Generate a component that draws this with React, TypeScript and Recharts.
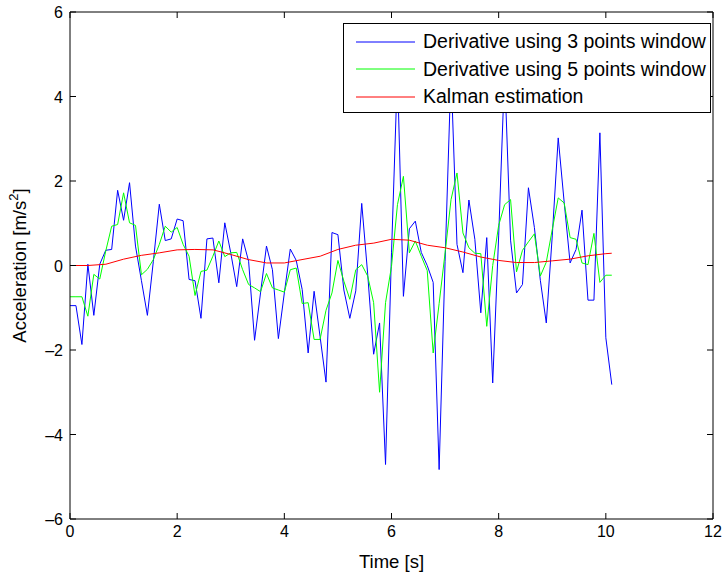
import { LineChart, Line, XAxis, YAxis, Legend, ReferenceLine } from "recharts";

// samples are 1/9 s apart, starting at t = 0
const SAMPLE_STEP = 1 / 9;

const derivative3 = [
  -0.95, -0.95, -1.87, 0.03, -1.18, 0.03, 0.36, 0.38, 1.78, 1.07,
  1.96, 0.46, -0.36, -1.18, 0.1, 1.45, 0.59, 0.63, 1.1, 1.06,
  -0.33, -0.36, -1.25, 0.63, 0.65, -0.41, 1.01, 0.3, -0.5, 0.63,
  0.1, -1.77, -0.65, 0.46, -0.1, -1.73, -0.65, 0.39, 0.12, -0.57,
  -2.07, -0.61, -1.68, -2.76, 0.78, 0.73, -0.58, -1.25, -0.6, 1.47,
  -0.2, -2.1, -1.36, -4.71, 0.3, 4.6, -0.73, 0.87, 1.05, 0.31,
  0.0, -0.4, -4.83, 0.1, 4.6, 0.5, -0.17, 1.55, 0.62, -1.12,
  0.66, -2.78, 0.7, 4.6, 0.6, -0.65, -0.45, 1.84, 0.9, -0.35,
  -1.36, 0.7, 3.02, 1.5, 0.06, 0.38, 1.31, -0.82, -0.82, 3.14,
  -1.71, -2.82,
];

const derivative5 = [
  -0.74, -0.74, -0.74, -1.2, -0.21, -0.32, 0.34, 0.93, 0.97, 1.72,
  1.01, 0.95, -0.22, -0.09, 0.14, 0.5, 0.93, 0.79, 0.9, 0.5,
  0.22, -0.71, -0.14, -0.11, 0.22, 0.58, 0.21, 0.3, 0.31, -0.1,
  -0.45, -0.53, -0.62, -0.19, -0.53, -0.58, -0.63, -0.1, -0.06, -0.9,
  -0.88, -1.75, -1.75, -1.06, -0.65, 0.12, -0.37, -0.8, -0.1, 0.02,
  -0.25, -0.88, -3.0, -0.88, -0.02, 1.44, 2.11, 0.3, 0.58, 0.22,
  -0.12, -2.07, -0.9, 0.3, 1.56, 2.19, 0.77, 0.42, 0.29, 0.28,
  -1.44, 0.0, 0.95, 1.44, 1.56, -0.15, 0.36, 0.56, 0.75, -0.25,
  0.08, 0.85, 1.6, 1.48, 0.66, 0.62, 0.06, 0.02, 0.76, -0.4,
  -0.23, -0.23,
];

const kalmanTime = [
  0, 0.33, 0.67, 1, 1.33, 1.67, 2, 2.33, 2.67, 3, 3.33, 3.67, 4, 4.33, 4.67, 5,
  5.33, 5.67, 6, 6.33, 6.67, 7, 7.33, 7.67, 8, 8.33, 8.67, 9, 9.33, 9.67, 10, 10.11,
];
const kalmanValue = [
  0.0, 0.0, 0.03, 0.15, 0.24, 0.3, 0.37, 0.38, 0.37, 0.26, 0.14, 0.06, 0.06, 0.14, 0.22, 0.38,
  0.48, 0.53, 0.62, 0.6, 0.48, 0.42, 0.32, 0.2, 0.12, 0.07, 0.07, 0.11, 0.15, 0.23, 0.28, 0.29,
];

const xTicks = [0, 2, 4, 6, 8, 10, 12];
const yTicks = [-6, -4, -2, 0, 2, 4, 6];

const names = [
  "Derivative using 3 points window",
  "Derivative using 5 points window",
  "Kalman estimation",
];

const rows3 = derivative3.map((v, i) => ({ t: i * SAMPLE_STEP, v }));
const rows5 = derivative5.map((v, i) => ({ t: i * SAMPLE_STEP, v }));
const rowsK = kalmanTime.map((t, i) => ({ t, v: kalmanValue[i] }));

const FONT = '"Liberation Sans", Arial, Helvetica, sans-serif';
const TICK_FS = 16;
const LABEL_FS = 18.5;
const LEGEND_FS = 19.5;
const PLOT_TOP = 12;
const PLOT_RIGHT = 713;
const TICK = 6;

function XTick(props: any) {
  const { x, y, payload } = props;
  return (
    <g>
      <line x1={x} y1={y} x2={x} y2={y - TICK} stroke="#000" />
      <line x1={x} y1={PLOT_TOP} x2={x} y2={PLOT_TOP + TICK} stroke="#000" />
      <text x={x} y={y + 18} textAnchor="middle" fontFamily={FONT} fontSize={TICK_FS} fill="#000">
        {payload.value}
      </text>
    </g>
  );
}

function YTick(props: any) {
  const { x, y, payload } = props;
  const label = String(payload.value).replace("-", "\u2013");
  return (
    <g>
      <line x1={x} y1={y} x2={x + TICK} y2={y} stroke="#000" />
      <line x1={PLOT_RIGHT - TICK} y1={y} x2={PLOT_RIGHT} y2={y} stroke="#000" />
      <text x={x - 7} y={y} dy={6} textAnchor="end" fontFamily={FONT} fontSize={TICK_FS} fill="#000">
        {label}
      </text>
    </g>
  );
}

function LegendBox(props: any) {
  const payload = props.payload || [];
  return (
    <div
      style={{
        border: "1px solid #000",
        background: "#fff",
        width: 368,
        height: 90,
        boxSizing: "border-box",
        paddingTop: 4,
        fontFamily: FONT,
        fontSize: LEGEND_FS,
        color: "#000",
      }}
    >
      {payload.map((entry: any) => (
        <div key={entry.value} style={{ display: "flex", alignItems: "center", height: 27.5 }}>
          <svg width={79} height={10} style={{ flex: "none" }}>
            <line x1={12} x2={71} y1={5} y2={5} stroke={entry.color} strokeWidth={1} />
          </svg>
          <span style={{ whiteSpace: "nowrap" }}>{entry.value}</span>
        </div>
      ))}
    </div>
  );
}

export default function App() {
  return (
    <div style={{ position: "absolute", left: 0, top: 0, width: 725, height: 573, background: "#fff" }}>
      <LineChart width={725} height={573} margin={{ top: 12, right: 12, bottom: 24, left: 0 }}>
        <XAxis
          type="number"
          dataKey="t"
          domain={[0, 12]}
          ticks={xTicks}
          interval={0}
          allowDataOverflow
          height={30}
          tickSize={0}
          tickMargin={0}
          tick={<XTick />}
          axisLine={{ stroke: "#000" }}
          label={(p: any) => (
            <text
              x={p.viewBox.x + p.viewBox.width / 2}
              y={568}
              textAnchor="middle"
              fontFamily={FONT}
              fontSize={LABEL_FS}
              fill="#000"
            >
              Time [s]
            </text>
          )}
        />
        <YAxis
          type="number"
          domain={[-6, 6]}
          ticks={yTicks}
          interval={0}
          allowDataOverflow
          width={70}
          tickSize={0}
          tickMargin={0}
          tick={<YTick />}
          axisLine={{ stroke: "#000" }}
          label={(p: any) => (
            <text
              x={26}
              y={p.viewBox.y + p.viewBox.height / 2}
              textAnchor="middle"
              transform={`rotate(-90 26 ${p.viewBox.y + p.viewBox.height / 2})`}
              fontFamily={FONT}
              fontSize={LABEL_FS}
              fill="#000"
            >
              <tspan>Acceleration [m/s</tspan>
              <tspan dy={-8} fontSize={13}>2</tspan>
              <tspan dy={8}>]</tspan>
            </text>
          )}
        />
        <ReferenceLine y={6} stroke="#000" />
        <ReferenceLine x={12} stroke="#000" />
        <Line data={rows3} dataKey="v" name={names[0]} type="linear" stroke="#0000ff" strokeWidth={1} dot={false} activeDot={false} isAnimationActive={false} />
        <Line data={rows5} dataKey="v" name={names[1]} type="linear" stroke="#00ff00" strokeWidth={1} dot={false} activeDot={false} isAnimationActive={false} />
        <Line data={rowsK} dataKey="v" name={names[2]} type="linear" stroke="#ff0000" strokeWidth={1} dot={false} activeDot={false} isAnimationActive={false} />
        <Legend
          layout="horizontal"
          align="center"
          verticalAlign="middle"
          content={<LegendBox />}
          wrapperStyle={{ left: 343, top: 23, width: 368 }}
        />
      </LineChart>
    </div>
  );
}
